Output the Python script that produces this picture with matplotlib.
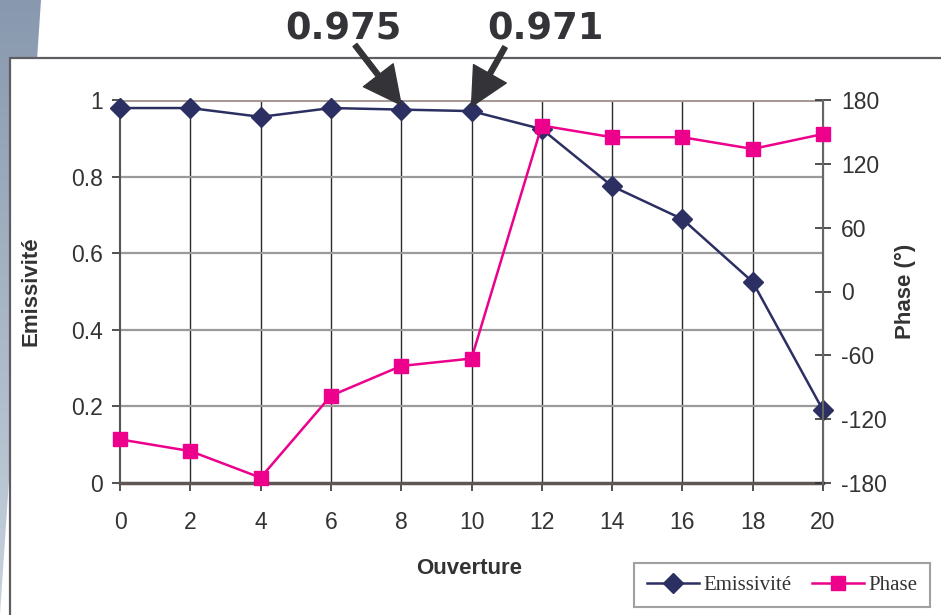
import numpy as np
import matplotlib.pyplot as plt
from matplotlib.patches import Rectangle, Polygon

# données
ouverture = [0, 2, 4, 6, 8, 10, 12, 14, 16, 18, 20]
emissivite = [0.979, 0.979, 0.956, 0.979, 0.975, 0.971, 0.924, 0.775, 0.689, 0.525, 0.19]
phase = [-139, -150, -175, -98, -70, -63, 156, 145, 145, 134, 148]
annotations = [(8, 0.975, "0.975"), (10, 0.971, "0.971")]

plt.rcParams['font.family'] = ['Liberation Sans', 'DejaVu Sans']
plt.rcParams['axes.unicode_minus'] = False

fig = plt.figure(figsize=(9.41, 6.15), dpi=100)
W, H = 941, 615

# bande décorative à gauche + cadre
bg = fig.add_axes([0, 0, 1, 1], zorder=-10)
bg.axis('off')
grad = np.linspace(0, 1, 256)[:, None]
img = bg.imshow(grad, cmap=plt.matplotlib.colors.LinearSegmentedColormap.from_list(
    'strip', ['#8898ae', '#c8d2de']), extent=(0, 45, H, 0), aspect='auto')
clip = Polygon([(0, 0), (41, 0), (0, H)], closed=True, transform=bg.transData)
img.set_clip_path(clip)
bg.add_patch(Rectangle((10, 58), W, H, facecolor='white', edgecolor='#5e5e62', lw=1.6))
bg.set_xlim(0, W)
bg.set_ylim(H, 0)

ax = fig.add_axes([120 / W, 1 - 483 / H, 703 / W, 383 / H])
ax2 = ax.twinx()

ax.set_xlim(0, 20)
ax.set_ylim(0, 1)
ax2.set_ylim(-180, 180)
ax.set_xticks(ouverture)
ax.set_yticks([0, 0.2, 0.4, 0.6, 0.8, 1])
ax.set_yticklabels(['0', '0.2', '0.4', '0.6', '0.8', '1'])
ax2.set_yticks([-180, -120, -60, 0, 60, 120, 180])

for x in ouverture[1:]:
    ax.axvline(x, color='#2a2a2e', lw=1.0, zorder=1)
for y in [0.2, 0.4, 0.6, 0.8]:
    ax.axhline(y, color='#9a9a9a', lw=1.6, zorder=1)
ax.axhline(1, color='#a59a94', lw=2.2, zorder=1)

ax.spines['top'].set_visible(False)
ax2.spines['top'].set_visible(False)
ax.spines['bottom'].set_color('#5f5552')
ax.spines['bottom'].set_linewidth(2.5)
ax.spines['left'].set_color('#555555')
ax.spines['left'].set_linewidth(1.5)
ax2.spines['right'].set_color('#666666')
ax2.spines['right'].set_linewidth(1.5)
ax2.spines['left'].set_visible(False)
ax2.spines['bottom'].set_visible(False)

tick_kw = dict(labelsize=16.5, colors='#333333', width=1.2)
ax.tick_params(axis='y', direction='out', length=6, pad=6, **tick_kw)
ax.tick_params(axis='x', direction='out', length=6, pad=14, **tick_kw)
ax2.tick_params(axis='y', direction='inout', length=12, pad=7, **tick_kw)

le, = ax.plot(ouverture, emissivite, color='#2c2f62', lw=1.8, marker='D',
              markersize=10, zorder=5, label='Emissivité', clip_on=False)
lp, = ax2.plot(ouverture, phase, color='#ec008c', lw=1.8, marker='s',
               markersize=10, zorder=4, label='Phase', clip_on=False)

lab_kw = dict(fontsize=16, fontweight='bold', color='#333333')
ax.set_ylabel('Emissivité', **lab_kw)
ax.yaxis.set_label_coords(-0.112, 0.5)
ax2.set_ylabel('Phase (°)', **lab_kw)
ax2.yaxis.set_label_coords(1.102, 0.5)
ax.set_xlabel('Ouverture', **lab_kw)
ax.xaxis.set_label_coords(0.497, -0.196)

# annotations avec flèches
text_pos = [(343, 29, 355, 45), (545, 29, 505, 47)]
for (x, y, t), (tx, ty, ax0, ay0) in zip(annotations, text_pos):
    fig.text(tx / W, 1 - ty / H, t, fontsize=26.5, fontweight='bold',
             family='DejaVu Sans', color='#333338', ha='center', va='center')
    ax.annotate('', xy=(x, y + 0.012), xycoords='data',
                xytext=(ax0, H - ay0), textcoords='figure pixels',
                arrowprops=dict(width=3.6, headwidth=27, headlength=27,
                                facecolor='#333338', edgecolor='#333338', shrink=0),
                annotation_clip=False, zorder=10)

leg = fig.legend(handles=[le, lp], loc='center',
                 bbox_to_anchor=(782 / W, 1 - 585 / H),
                 ncol=2, frameon=True, fancybox=False,
                 edgecolor='#888888', handlelength=2.5, handletextpad=0.2,
                 columnspacing=1.0, borderpad=0.6,
                 prop={'family': 'Liberation Serif', 'size': 15})
leg.get_frame().set_linewidth(1.5)
for t in leg.get_texts():
    t.set_color('#333333')

fig.savefig('out.png', dpi=100)
